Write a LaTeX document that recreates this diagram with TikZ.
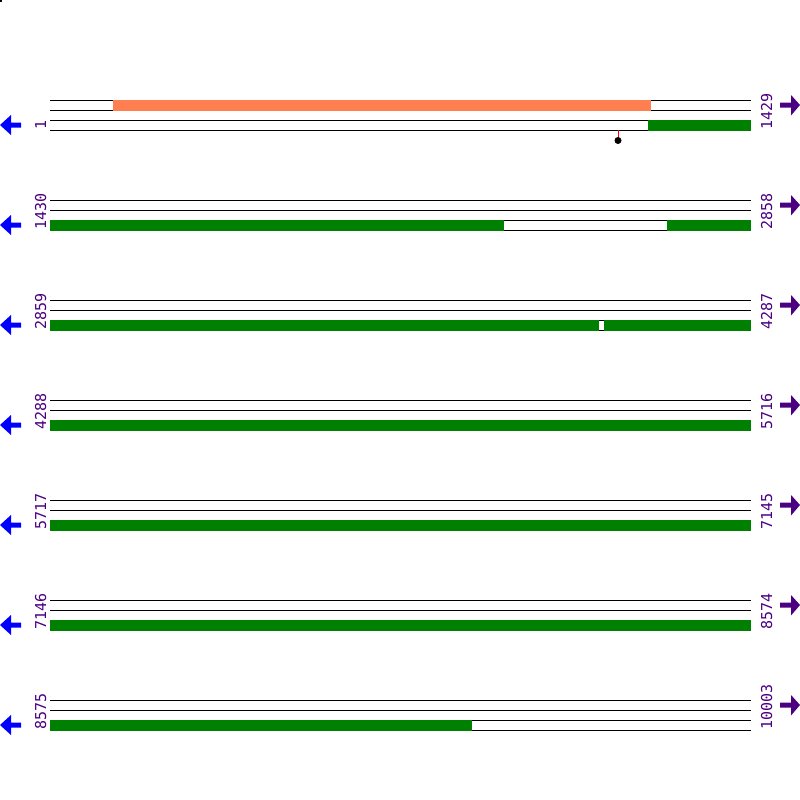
\documentclass[tikz,border=0pt]{standalone}
\usepackage{fontspec}
\newfontfamily\numfont{DejaVu Sans Mono}
\definecolor{featgreen}{HTML}{008000}
\definecolor{featorange}{HTML}{FF7F50}
\definecolor{numpurple}{HTML}{4B0082}
\definecolor{arrblue}{HTML}{0000FF}
\tikzset{
  track/.style={draw=black,line width=1pt},
  greenbar/.style={fill=featgreen,draw=none},
  orangebar/.style={fill=featorange,draw=none},
  gapbox/.style={fill=white,draw=black,line width=1pt},
  numlabel/.style={rotate=90,anchor=base west,inner sep=0pt,text=numpurple,font=\numfont\fontsize{15}{15}\selectfont},
  leftarrow/.style={fill=arrblue,draw=none},
  rightarrow/.style={fill=numpurple,draw=none},
}
\begin{document}
\begin{tikzpicture}[x=1pt,y=-1pt]
\useasboundingbox (0,0) rectangle (800,800);
\fill[black] (0,0) rectangle (2,2);
\foreach \r/\lft/\rgt [count=\i] in {100/1/1429,200/1430/2858,300/2859/4287,400/4288/5716,500/5717/7145,600/7146/8574,700/8575/10003}{
  \foreach \d in {0,10,20,30}{
    \draw[track] (50,\r+\d) -- (751,\r+\d);
  }
  \node[numlabel] (l\i) at (46,\r+30) {\lft};
  \node[numlabel] (r\i) at (772,\r+30) {\rgt};
  \fill[leftarrow] (0,\r+25) -- (11,\r+15) -- (11,\r+22.5) -- (21,\r+22.5) -- (21,\r+27.5) -- (11,\r+27.5) -- (11,\r+35) -- cycle;
  \fill[rightarrow] (800,\r+5) -- (791,\r-5) -- (791,\r+2.5) -- (780,\r+2.5) -- (780,\r+7.5) -- (791,\r+7.5) -- (791,\r+15.5) -- cycle;
}
% row 1
\fill[orangebar] (113,100) rectangle (651,110.5);
\fill[greenbar] (648,120) rectangle (751,130.5);
\draw[red,line width=1pt] (618,130) -- (618,138);
\fill[black] (618,140.5) circle (3.5);
% row 2
\fill[greenbar] (50,220) rectangle (504,230.5);
\fill[greenbar] (667,220) rectangle (751,230.5);
% row 3
\fill[greenbar] (50,320) rectangle (599,330.5);
\fill[greenbar] (604,320) rectangle (751,330.5);
% rows 4-6
\fill[greenbar] (50,420) rectangle (751,430.5);
\fill[greenbar] (50,520) rectangle (751,530.5);
\fill[greenbar] (50,620) rectangle (751,630.5);
% row 7
\fill[greenbar] (50,720) rectangle (472,730.5);
\end{tikzpicture}
\end{document}
